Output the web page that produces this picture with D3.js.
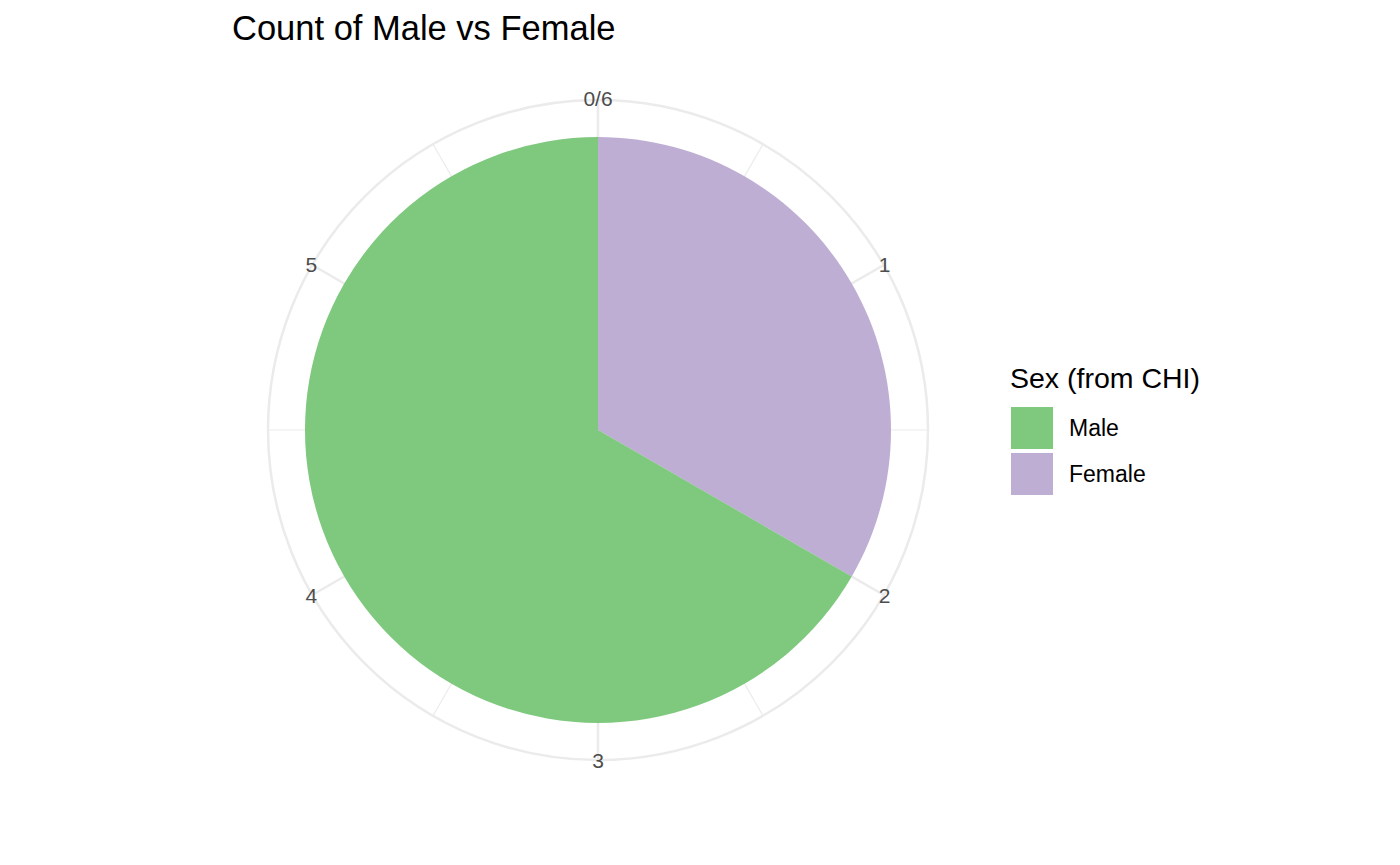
<!DOCTYPE html>
<html>
<head>
<meta charset="utf-8">
<script src="https://cdn.jsdelivr.net/npm/d3@7"></script>
<style>
  body { margin: 0; background: #fff; }
  text { font-family: "Liberation Sans", Arial, sans-serif; }
</style>
</head>
<body>
<div id="chart"></div>
<script>
// data
const categories = ["Male", "Female"];
const counts = [4, 2];
const colours = ["#7FC97F", "#BEAED4"];
// Female sits first clockwise from 12 o'clock, then Male
const stackOrder = ["Female", "Male"];
const majorTicks = [0, 1, 2, 3, 4, 5];
const minorTicks = [0.5, 1.5, 2.5, 3.5, 4.5, 5.5];
const tickLabels = ["0/6", "1", "2", "3", "4", "5"];

const width = 1400, height = 865;
const cx = 598, cy = 430;
const pieRadius = 293, gridRadius = 330;

const svg = d3.select("#chart").append("svg")
    .attr("width", width)
    .attr("height", height);

const total = d3.sum(counts);
const theta = d3.scaleLinear().domain([0, total]).range([0, 2 * Math.PI]);
const fill = d3.scaleOrdinal().domain(categories).range(colours);

const g = svg.append("g").attr("transform", `translate(${cx},${cy})`);

// grid: outer circle and radial lines
g.append("circle")
    .attr("r", gridRadius)
    .attr("fill", "none")
    .attr("stroke", "#EBEBEB")
    .attr("stroke-width", 2.5);

g.selectAll(".minor")
    .data(minorTicks)
    .enter().append("line")
    .attr("class", "minor")
    .attr("x1", 0).attr("y1", 0)
    .attr("x2", d => gridRadius * Math.sin(theta(d)))
    .attr("y2", d => -gridRadius * Math.cos(theta(d)))
    .attr("stroke", "#EBEBEB")
    .attr("stroke-width", 1.2);

g.selectAll(".major")
    .data(majorTicks)
    .enter().append("line")
    .attr("class", "major")
    .attr("x1", 0).attr("y1", 0)
    .attr("x2", d => gridRadius * Math.sin(theta(d)))
    .attr("y2", d => -gridRadius * Math.cos(theta(d)))
    .attr("stroke", "#EBEBEB")
    .attr("stroke-width", 2.5);

// slices, stacked clockwise
let acc = 0;
const slices = stackOrder.map(name => {
    const v = counts[categories.indexOf(name)];
    const s = {name: name, start: acc, end: acc + v};
    acc += v;
    return s;
});

const arc = d3.arc().innerRadius(0).outerRadius(pieRadius);
g.selectAll(".slice")
    .data(slices)
    .enter().append("path")
    .attr("class", "slice")
    .attr("d", d => arc({startAngle: theta(d.start), endAngle: theta(d.end)}))
    .attr("fill", d => fill(d.name));

// theta labels
g.selectAll(".tick-label")
    .data(majorTicks)
    .enter().append("text")
    .attr("class", "tick-label")
    .attr("x", d => (gridRadius + 1) * Math.sin(theta(d)))
    .attr("y", d => -(gridRadius + 1) * Math.cos(theta(d)))
    .attr("dy", "0.35em")
    .attr("text-anchor", "middle")
    .attr("font-size", 21)
    .attr("fill", "#4D4D4D")
    .text((d, i) => tickLabels[i]);

// title
svg.append("text")
    .attr("x", 232)
    .attr("y", 40)
    .attr("font-size", 34.5)
    .attr("fill", "#000")
    .text("Count of Male vs Female");

// legend
const legend = svg.append("g").attr("transform", "translate(1010,0)");
legend.append("text")
    .attr("x", 0)
    .attr("y", 388)
    .attr("font-size", 28.5)
    .attr("fill", "#000")
    .text("Sex (from CHI)");

const keys = legend.selectAll(".key")
    .data(categories)
    .enter().append("g")
    .attr("class", "key")
    .attr("transform", (d, i) => `translate(1,${407 + i * 46})`);

keys.append("rect")
    .attr("width", 42)
    .attr("height", 42)
    .attr("fill", d => fill(d));

keys.append("text")
    .attr("x", 58)
    .attr("y", 21)
    .attr("dy", "0.35em")
    .attr("font-size", 23)
    .attr("fill", "#000")
    .text(d => d);
</script>
</body>
</html>
